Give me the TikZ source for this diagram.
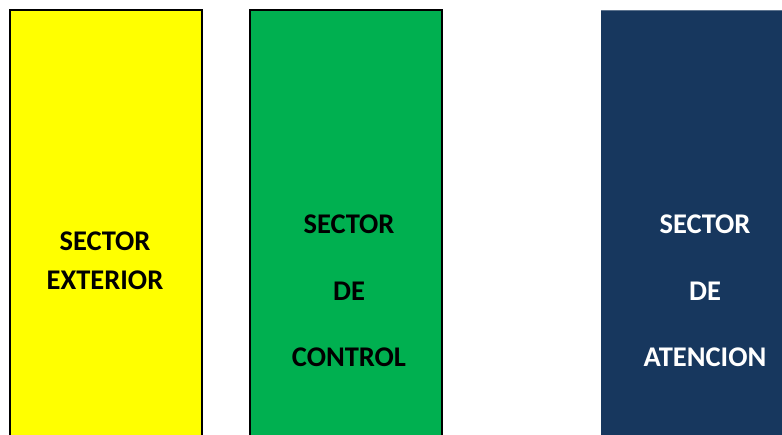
\documentclass[tikz,border=0pt]{standalone}
\usepackage{fontspec}
\setmainfont{Carlito}
\definecolor{amarillo}{HTML}{FFFF00}
\definecolor{verde}{HTML}{00B050}
\definecolor{azul}{HTML}{17375E}
\begin{document}
\begin{tikzpicture}[x=1pt,y=-1pt,font=\fontsize{28.5}{38.5}\selectfont\bfseries,
  sector/.style={anchor=north west,inner sep=0pt,outer sep=0pt,minimum height=440pt},
  rotulo/.style={align=center,inner sep=0pt}]
\useasboundingbox(0,0)rectangle(782,434);
\pgfmathsetmacro{\ancho}{192}
\node[sector,fill=amarillo,draw=black,line width=1.3pt,minimum width=\ancho pt](exterior)at(10,10){};
\node[sector,fill=verde,draw=black,line width=1.3pt,minimum width=\ancho pt](control)at(250,10){};
\node[sector,fill=azul,minimum width=190pt](atencion)at(601,10){};
\draw[azul!70!white,line width=0.8pt](atencion.north west)--(atencion.north east);
\node[rotulo](t1)at(105,260.5){SECTOR\\EXTERIOR};
\node[rotulo](t2)at(349,291){SECTOR\\[28pt]DE\\[28pt]CONTROL};
\node[rotulo,text=white](t3)at(705,291){SECTOR\\[28pt]DE\\[28pt]ATENCION};
\end{tikzpicture}
\end{document}
